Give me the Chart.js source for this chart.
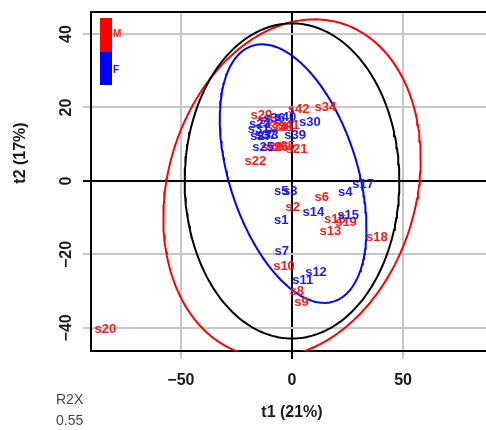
<!DOCTYPE html>
<html><head><meta charset="utf-8">
<script src="https://cdn.jsdelivr.net/npm/chart.js@4.4.1/dist/chart.umd.min.js"></script>
<style>html,body{margin:0;padding:0;background:#fff}#wrap{width:486px;height:430px}</style>
</head><body><div id="wrap"><canvas id="c" width="486" height="430"></canvas></div>
<script>
// ---- data ----
const sampleNames = ['s1','s2','s3','s4','s5','s6','s7','s8','s9','s10',
  's11','s12','s13','s14','s15','s16','s17','s18','s19','s20',
  's21','s22','s23','s24','s25','s26','s27','s28','s29','s30',
  's31','s32','s33','s34','s35','s36','s37','s38','s39','s40','s41','s42'];
const sampleGroup = ['F','M','F','F','F','M','F','M','M','M',
  'F','F','M','F','F','M','F','M','M','M',
  'M','M','F','M','F','M','F','M','M','F',
  'F','M','F','M','M','F','F','M','F','F','M','M'];
const t1Scores = [-4.8, 0.3, -0.8, 24.0, -4.8, 13.4, -4.6, 2.1, 4.3, -3.6,
  4.8, 10.8, 17.3, 9.6, 25.3, 19.3, 32.0, 38.2, 24.3, -84.0,
  2.1, -16.5, -14.5, -7.0, -13.0, -6.5, -14.0, -9.0, -13.8, 8.0,
  -15.0, -10.0, -11.0, 15.0, -3.5, -8.0, -12.0, -4.5, 1.4, -3.0, -1.5, 3.0];
const t2Scores = [-10.8, -7.1, -2.9, -3.2, -2.8, -4.6, -19.1, -30.0, -33.0, -23.3,
  -27.0, -25.0, -13.8, -8.5, -9.3, -10.4, -0.9, -15.4, -11.4, -40.3,
  8.6, 5.2, 15.5, 14.5, 9.0, 9.0, 12.0, 9.2, 17.8, 16.0,
  14.0, 16.5, 12.5, 20.0, 9.5, 17.0, 12.5, 14.5, 12.4, 17.3, 15.0, 19.4];
const groups = ['M', 'F'];
const xTicks = [-50, 0, 50];
const yTicks = [-40, -20, 0, 20, 40];
// ellipses: [centre t1, centre t2, half-width t1, half-height t2, phase]
const hotellingEllipse = [0.0, 0.0, 48.3, 42.9, Math.PI / 2];
const ellipseM = [0.0, -2.0, 57.9, 46.0, 1.395];
const ellipseF = [0.5, 2.0, 33.0, 35.2, 2.008];
const xTitle = 't1 (21%)';
const yTitle = 't2 (17%)';
const r2xLabel = 'R2X';
const r2xValue = '0.55';

// ---- styles ----
const groupColor = { M: '#ff1a1a', F: '#1a1aff' };
const FONT = '"Liberation Sans", Arial, sans-serif';

function ellipsePts(p) {
  const [cx, cy, rx, ry, d] = p;
  const pts = [];
  for (let i = 0; i <= 240; i++) {
    const t = i / 240 * 2 * Math.PI;
    pts.push({ x: cx + rx * Math.cos(t), y: cy + ry * Math.cos(t - d) });
  }
  return pts;
}

const sampleData = groups.map(g => sampleNames
  .map((n, i) => ({ x: t1Scores[i], y: t2Scores[i], name: n, g: sampleGroup[i] }))
  .filter(d => d.g === g));

const lineDs = (p, c) => ({ data: ellipsePts(p), showLine: true, pointRadius: 0,
  borderColor: c, borderWidth: 2, fill: false, tension: 0, order: 2 });

const datasets = [
  lineDs(hotellingEllipse, '#000000'),
  lineDs(ellipseM, '#ff0000'),
  lineDs(ellipseF, '#0000ff'),
  ...groups.map((g, k) => ({ data: sampleData[k], pointRadius: 0, isLabels: true,
    labelColor: groupColor[g], order: 1 }))
];

const decor = {
  id: 'decor',
  afterDatasetsDraw(chart) {
    const ctx = chart.ctx;
    ctx.save();
    ctx.font = 'bold 13px ' + FONT;
    ctx.textAlign = 'center';
    ctx.textBaseline = 'middle';
    chart.data.datasets.forEach((ds, di) => {
      if (!ds.isLabels) return;
      const meta = chart.getDatasetMeta(di);
      ctx.fillStyle = ds.labelColor;
      meta.data.forEach((el, i) => ctx.fillText(ds.data[i].name, el.x, el.y));
    });
    ctx.restore();
  },
  afterDraw(chart) {
    const ctx = chart.ctx, a = chart.chartArea;
    const xs = chart.scales.x, ys = chart.scales.y;
    ctx.save();
    // top border
    ctx.strokeStyle = '#000'; ctx.lineWidth = 2;
    ctx.beginPath(); ctx.moveTo(a.left - 1, a.top); ctx.lineTo(a.right, a.top); ctx.stroke();
    const fmt = v => v < 0 ? '\u2212' + Math.abs(v) : String(v);
    ctx.fillStyle = '#1a1a1a';
    ctx.font = 'bold 16px ' + FONT;
    ctx.textAlign = 'center'; ctx.textBaseline = 'middle';
    xTicks.forEach(v => ctx.fillText(fmt(v), xs.getPixelForValue(v), 381));
    yTicks.forEach(v => {
      ctx.save();
      ctx.translate(67, ys.getPixelForValue(v));
      ctx.rotate(-Math.PI / 2);
      ctx.fillText(fmt(v), 0, 0);
      ctx.restore();
    });
    ctx.fillText(xTitle, xs.getPixelForValue(0), 413);
    ctx.save();
    ctx.translate(21, 153);
    ctx.rotate(-Math.PI / 2);
    ctx.fillText(yTitle, 0, 0);
    ctx.restore();
    ctx.font = '14px ' + FONT;
    ctx.fillStyle = '#444';
    ctx.textAlign = 'left';
    ctx.fillText(r2xLabel, 56, 400);
    ctx.fillText(r2xValue, 56, 421);
    // legend colour bar
    ctx.fillStyle = '#ff0000'; ctx.fillRect(100, 18, 12, 34);
    ctx.fillStyle = '#0000ff'; ctx.fillRect(100, 52, 12, 33);
    ctx.font = 'bold 10px ' + FONT;
    ctx.fillStyle = '#ff2020'; ctx.fillText('M', 113, 34);
    ctx.fillStyle = '#2020ff'; ctx.fillText('F', 113, 70);
    ctx.restore();
  }
};

const gridCol = c => (c.tick && c.tick.value === 0) ? '#000000' : '#c6c6c6';

new Chart(document.getElementById('c'), {
  type: 'scatter',
  data: { datasets },
  options: {
    responsive: false, animation: false, devicePixelRatio: 1,
    layout: { padding: { left: 0, top: 12, right: 0, bottom: 0 } },
    plugins: { legend: { display: false }, tooltip: { enabled: false } },
    scales: {
      x: {
        type: 'linear', min: -90.45, max: 87.3,
        afterBuildTicks: s => { s.ticks = xTicks.map(v => ({ value: v })); },
        afterFit: s => { s.height = 79; },
        ticks: { display: false },
        grid: { color: gridCol, tickColor: gridCol, lineWidth: 2, tickLength: 8 },
        border: { display: true, color: '#000', width: 2 }
      },
      y: {
        type: 'linear', min: -46.3, max: 46.0,
        afterBuildTicks: s => { s.ticks = yTicks.map(v => ({ value: v })); },
        afterFit: s => { s.width = 91; },
        ticks: { display: false },
        grid: { color: gridCol, tickColor: gridCol, lineWidth: 2, tickLength: 8 },
        border: { display: true, color: '#000', width: 2 }
      }
    }
  },
  plugins: [decor]
});
</script></body></html>
